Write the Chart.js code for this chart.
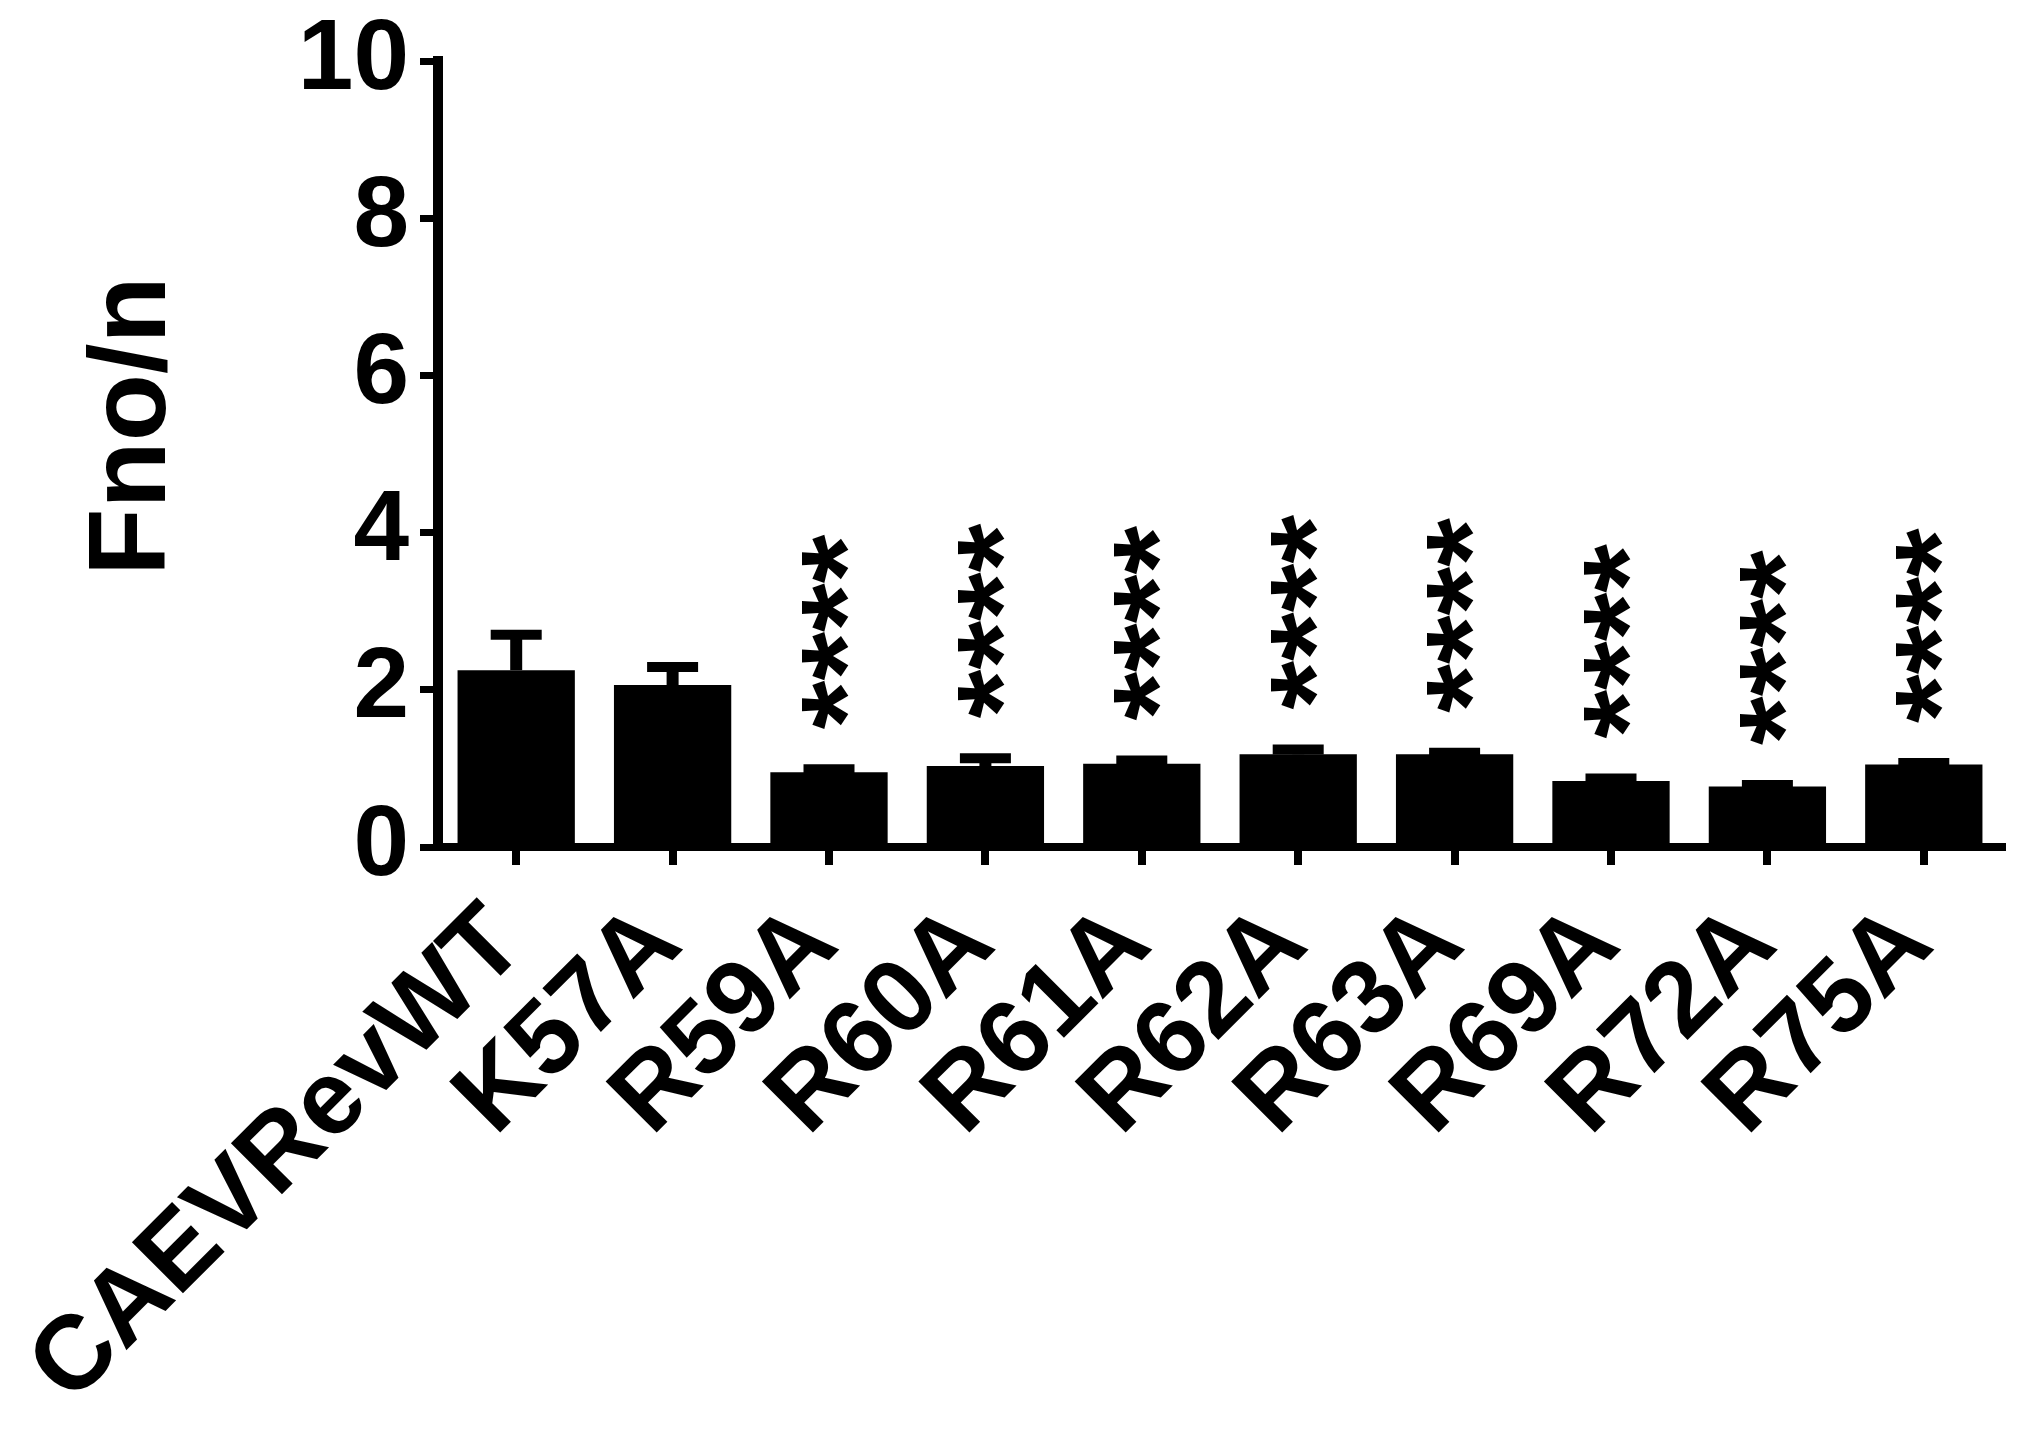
<!DOCTYPE html>
<html>
<head>
<meta charset="utf-8">
<script src="https://cdn.jsdelivr.net/npm/chart.js@4.4.1/dist/chart.umd.min.js"></script>
<style>
  html, body { margin: 0; padding: 0; background: #ffffff; }
  canvas { display: block; }
</style>
</head>
<body>
<canvas id="c" width="2034" height="1431"></canvas>
<script>
const categories = ["CAEVRevWT", "K57A", "R59A", "R60A", "R61A", "R62A", "R63A", "R69A", "R72A", "R75A"];
const means = [2.25, 2.06, 0.95, 1.03, 1.06, 1.18, 1.18, 0.84, 0.77, 1.05];
const sems = [0.45, 0.23, 0.04, 0.10, 0.04, 0.06, 0.02, 0.03, 0.02, 0.02];
const significance = ["", "", "****", "****", "****", "****", "****", "****", "****", "****"];
const yTicks = [0, 2, 4, 6, 8, 10];
const yTitle = "Fno/n";

const FONT = '"Liberation Sans", Arial, Helvetica, sans-serif';

const errorAndStarsPlugin = {
  id: 'errorAndStars',
  afterDatasetsDraw(chart) {
    const ctx = chart.ctx;
    const meta = chart.getDatasetMeta(0);
    const yScale = chart.scales.y;
    ctx.save();
    meta.data.forEach((bar, i) => {
      const x = bar.x;
      const yTop = yScale.getPixelForValue(means[i]);
      const yErr = yScale.getPixelForValue(means[i] + sems[i]);
      ctx.strokeStyle = '#000';
      ctx.fillStyle = '#000';
      ctx.lineCap = 'butt';
      ctx.lineWidth = 12;
      ctx.beginPath();
      ctx.moveTo(x, yTop);
      ctx.lineTo(x, yErr);
      ctx.stroke();
      ctx.lineWidth = 10;
      ctx.beginPath();
      ctx.moveTo(x - 25.5, yErr);
      ctx.lineTo(x + 25.5, yErr);
      ctx.stroke();
      const s = significance[i];
      if (s) {
        ctx.save();
        ctx.font = 'bold 125px ' + FONT;
        ctx.textAlign = 'left';
        ctx.textBaseline = 'alphabetic';
        const m = ctx.measureText(s);
        const baseY = yErr - 40;
        ctx.translate(x - 4, baseY);
        ctx.rotate(-Math.PI / 2);
        const yOff = (m.actualBoundingBoxAscent - m.actualBoundingBoxDescent) / 2;
        ctx.fillText(s, m.actualBoundingBoxLeft, yOff);
        ctx.restore();
      }
    });
    ctx.restore();
  },
  afterDraw(chart) {
    const ctx = chart.ctx;
    const area = chart.chartArea;
    ctx.save();
    ctx.fillStyle = '#000';
    ctx.font = 'bold 110px ' + FONT;
    ctx.textAlign = 'center';
    ctx.textBaseline = 'alphabetic';
    ctx.translate(165, (area.top + area.bottom) / 2 - 28);
    ctx.rotate(-Math.PI / 2);
    ctx.fillText(yTitle, 0, 0);
    ctx.restore();
  }
};

new Chart(document.getElementById('c'), {
  type: 'bar',
  data: {
    labels: categories,
    datasets: [{
      data: means,
      backgroundColor: '#000000',
      borderWidth: 0,
      barPercentage: 0.75,
      categoryPercentage: 1.0
    }]
  },
  options: {
    responsive: false,
    animation: false,
    devicePixelRatio: 1,
    layout: { padding: { left: 0, right: 32, top: 55, bottom: 0 } },
    plugins: {
      legend: { display: false },
      tooltip: { enabled: false }
    },
    scales: {
      x: {
        type: 'category',
        offset: true,
        grid: {
          display: true,
          offset: false,
          drawOnChartArea: false,
          drawTicks: true,
          tickLength: 18,
          tickWidth: 8,
          lineWidth: 8,
          color: '#000',
          tickColor: '#000'
        },
        border: { display: true, color: '#000', width: 8 },
        ticks: {
          color: '#000',
          font: { family: FONT, size: 105, weight: 'bold', lineHeight: 1 },
          minRotation: 45,
          maxRotation: 45,
          padding: 25,
          labelOffset: -8,
          autoSkip: false
        },
        afterFit(scale) { scale.height = 584; }
      },
      y: {
        min: 0,
        max: 10,
        afterBuildTicks(scale) { scale.ticks = yTicks.map(v => ({ value: v })); },
        grid: {
          display: true,
          drawOnChartArea: false,
          drawTicks: true,
          tickLength: 18,
          tickWidth: 7,
          lineWidth: 7,
          color: '#000',
          tickColor: '#000'
        },
        border: { display: true, color: '#000', width: 10 },
        ticks: {
          color: '#000',
          font: { family: FONT, size: 100, weight: 'bold', lineHeight: 1 },
          padding: 11
        },
        title: { display: false },
        afterFit(scale) { scale.width = 438; }
      }
    }
  },
  plugins: [errorAndStarsPlugin]
});
</script>
</body>
</html>
